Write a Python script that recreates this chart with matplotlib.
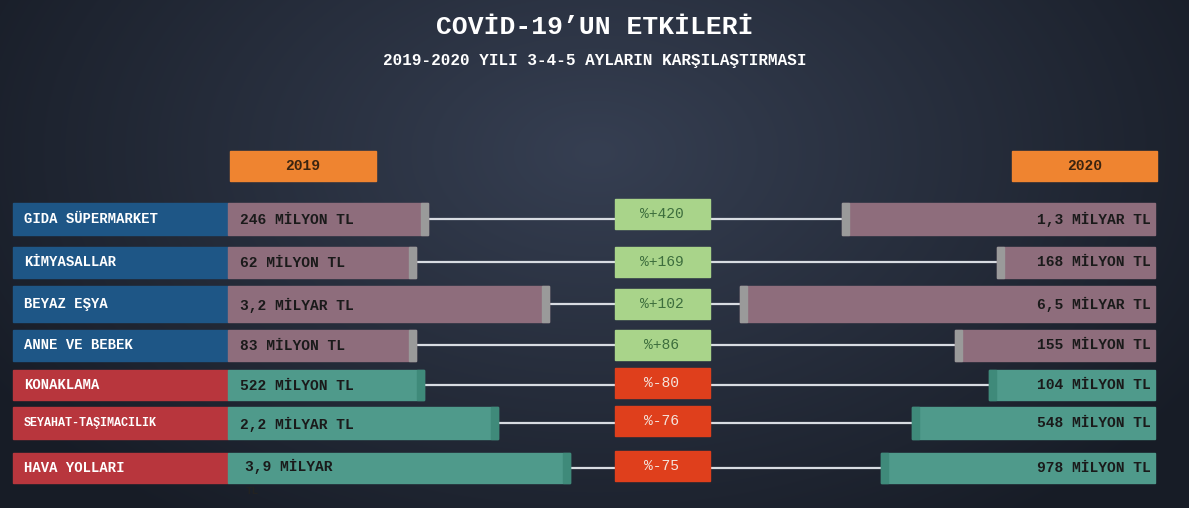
import numpy as np
import matplotlib
matplotlib.use("Agg")
import matplotlib.pyplot as plt
from matplotlib.patches import Rectangle

categories = ["GIDA SÜPERMARKET", "KİMYASALLAR", "BEYAZ EŞYA", "ANNE VE BEBEK",
              "KONAKLAMA", "SEYAHAT-TAŞIMACILIK", "HAVA YOLLARI"]
labels_2019 = ["246 MİLYON TL", "62 MİLYON TL", "3,2 MİLYAR TL", "83 MİLYON TL",
               "522 MİLYON TL", "2,2 MİLYAR TL", "3,9 MİLYAR\nTL"]
labels_2020 = ["1,3 MİLYAR TL", "168 MİLYON TL", "6,5 MİLYAR TL", "155 MİLYON TL",
               "104 MİLYON TL", "548 MİLYON TL", "978 MİLYON TL"]
change_pct = ["%+420", "%+169", "%+102", "%+86", "%-80", "%-76", "%-75"]
# displayed bar lengths (infographic, not to scale)
bar_len_2019 = [200, 188, 321, 188, 196, 270, 342]
bar_len_2020 = [313, 158, 415, 200, 166, 243, 274]

W, H = 1189, 508
fig = plt.figure(figsize=(W/100, H/100), dpi=100)
ax = fig.add_axes([0, 0, 1, 1])
ax.set_xlim(0, W); ax.set_ylim(H, 0); ax.axis("off")

# background radial gradient
yy, xx = np.mgrid[0:H, 0:W]
r = np.sqrt(((xx - W/2)/(W*0.6))**2 + ((yy - H*0.3)/(H*0.9))**2)
c0 = np.array([0x36, 0x3f, 0x52]) / 255
c1 = np.array([0x17, 0x1c, 0x26]) / 255
t = np.clip(r, 0, 1)[..., None]
ax.imshow(c0*(1-t) + c1*t, extent=[0, W, H, 0], aspect="auto", zorder=0)

font = "Liberation Mono"
ax.text(W/2, 27, "COVİD-19’UN ETKİLERİ", ha="center", va="center", fontsize=19,
        fontweight="bold", family=font, color="white")
ax.text(W/2, 61, "2019-2020 YILI 3-4-5 AYLARIN KARŞILAŞTIRMASI", ha="center", va="center",
        fontsize=11.5, fontweight="bold", family=font, color="white")

for x0, x1, lab in [(230, 376, "2019"), (1012, 1157, "2020")]:
    ax.add_patch(Rectangle((x0, 151), x1-x0, 30, color="#ef8430", zorder=2))
    ax.text((x0+x1)/2, 166, lab, ha="center", va="center", fontsize=10.5,
            fontweight="bold", family=font, color="#3a2410", zorder=3)

yc = [219, 262, 304, 345, 385, 423, 468]
hs = [32, 31, 36, 31, 30, 32, 30]
left0, right1 = 228, 1155
for i, cat in enumerate(categories):
    y, h = yc[i], hs[i]
    pos = i < 4
    lab_col = "#1e5686" if pos else "#b8363d"
    bar_col = "#8e6d7c" if pos else "#4f9a8b"
    edge_col = "#9a9a9a" if pos else "#3f8a7a"
    ax.add_patch(Rectangle((13, y-h/2), left0-13, h, color=lab_col, zorder=2))
    ax.text(24, y, cat, ha="left", va="center", fontsize=10 if i != 5 else 8.5,
            fontweight="bold", family=font, color="white", zorder=3)
    lend = left0 + bar_len_2019[i]
    rstart = right1 - bar_len_2020[i]
    ax.plot([lend, rstart], [y, y], color="#d8dce2", lw=1.6, zorder=1)
    ax.add_patch(Rectangle((left0, y-h/2), bar_len_2019[i], h, color=bar_col, zorder=2))
    ax.add_patch(Rectangle((lend-7, y-h/2), 7, h, color=edge_col, zorder=2))
    ax.add_patch(Rectangle((rstart, y-h/2), bar_len_2020[i], h, color=bar_col, zorder=2))
    ax.add_patch(Rectangle((rstart, y-h/2), 7, h, color=edge_col, zorder=2))
    if i == 6:
        ax.text(left0+17, y-2, "3,9 MİLYAR", ha="left", va="center", fontsize=10.5,
                fontweight="bold", family=font, color="#1a1a1a", zorder=3)
        ax.text(left0+18, y+23, "TL", ha="left", va="center", fontsize=8,
                fontweight="bold", family=font, color="#222222", zorder=3)
    else:
        ax.text(left0+12, y+1, labels_2019[i], ha="left", va="center", fontsize=10.5,
                fontweight="bold", family=font, color="#1a1a1a", zorder=3)
    ax.text(right1-4, y, labels_2020[i], ha="right", va="center", fontsize=10.5,
            fontweight="bold", family=font, color="#1a1a1a", zorder=3)
    pc = "#a9d48a" if pos else "#df3f1c"
    tc = "#3d6e3d" if pos else "#f4e4dc"
    ph = 30
    py = y - 5 if i == 0 else (y - 2 if i >= 4 else y)
    ax.add_patch(Rectangle((615, py-ph/2), 95, ph, color=pc, zorder=2))
    ax.text(662, py, change_pct[i], ha="center", va="center", fontsize=10.5,
            family=font, color=tc, zorder=3)

fig.savefig("out.png", dpi=100)
